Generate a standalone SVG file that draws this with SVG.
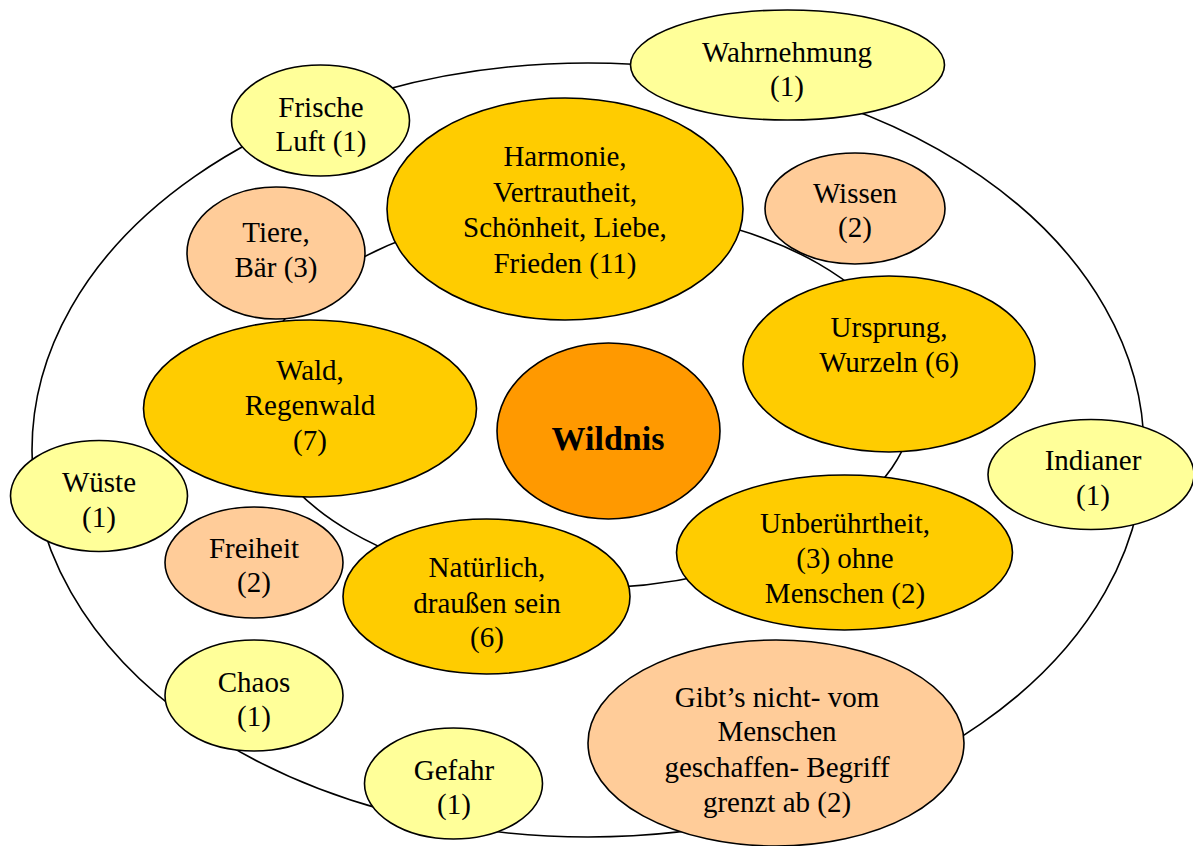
<svg xmlns="http://www.w3.org/2000/svg" width="1193" height="846" viewBox="0 0 1193 846">
  <style>
    .ring { fill: none; stroke: #000; stroke-width: 1.6; }
    .node { stroke: #000; stroke-width: 1.6; }
    .y { fill: #FFFF99; }
    .p { fill: #FFCC99; }
    .g { fill: #FFCC00; }
    .o { fill: #FF9900; }
  </style>
  <rect width="1193" height="846" fill="#fff"/>

  <!-- connecting rings -->
  <g id="connectors">
    <ellipse class="ring" cx="588" cy="450" rx="556" ry="387"/>
    <ellipse class="ring" cx="585" cy="398" rx="330" ry="190"/>
  </g>

  <g font-family="Liberation Serif" font-size="29" text-anchor="middle" fill="#000">
  <g id="frische-luft">
    <ellipse class="node y" cx="320.5" cy="120.5" rx="89" ry="55.5"/>
    <text x="321" y="117">Frische</text>
    <text x="321" y="151">Luft (1)</text>
  </g>

  <g id="wahrnehmung">
    <ellipse class="node y" cx="787.5" cy="65" rx="157" ry="55"/>
    <text x="787" y="62">Wahrnehmung</text>
    <text x="787" y="96">(1)</text>
  </g>

  <g id="harmonie">
    <ellipse class="node g" cx="565" cy="209" rx="178" ry="111"/>
    <text x="565" y="166">Harmonie,</text>
    <text x="565" y="202">Vertrautheit,</text>
    <text x="565" y="237">Schönheit, Liebe,</text>
    <text x="565" y="273">Frieden (11)</text>
  </g>

  <g id="wissen">
    <ellipse class="node p" cx="855" cy="208.5" rx="90" ry="55.5"/>
    <text x="855" y="203">Wissen</text>
    <text x="855" y="237">(2)</text>
  </g>

  <g id="tiere">
    <ellipse class="node p" cx="276" cy="253" rx="89" ry="66"/>
    <text x="276" y="242">Tiere,</text>
    <text x="276" y="277">Bär (3)</text>
  </g>

  <g id="wald">
    <ellipse class="node g" cx="310" cy="408.5" rx="166.5" ry="88.5"/>
    <text x="310" y="380">Wald,</text>
    <text x="310" y="415">Regenwald</text>
    <text x="310" y="450">(7)</text>
  </g>

  <g id="wildnis">
    <ellipse class="node o" cx="608.5" cy="431" rx="111.5" ry="88"/>
    <text x="608" y="450" font-size="34" font-weight="bold">Wildnis</text>
  </g>

  <g id="ursprung">
    <ellipse class="node g" cx="889" cy="364" rx="146" ry="88"/>
    <text x="889" y="337">Ursprung,</text>
    <text x="889" y="372">Wurzeln (6)</text>
  </g>

  <g id="indianer">
    <ellipse class="node y" cx="1091" cy="474.5" rx="103" ry="55"/>
    <text x="1093" y="470">Indianer</text>
    <text x="1093" y="505">(1)</text>
  </g>

  <g id="wueste">
    <ellipse class="node y" cx="99" cy="496" rx="88.5" ry="55.5"/>
    <text x="99" y="492">Wüste</text>
    <text x="99" y="527">(1)</text>
  </g>

  <g id="freiheit">
    <ellipse class="node p" cx="254" cy="562.5" rx="89" ry="55.5"/>
    <text x="254" y="558">Freiheit</text>
    <text x="254" y="592">(2)</text>
  </g>

  <g id="natuerlich">
    <ellipse class="node g" cx="486.5" cy="596.5" rx="143.5" ry="77.5"/>
    <text x="487" y="577">Natürlich,</text>
    <text x="487" y="613">draußen sein</text>
    <text x="487" y="647">(6)</text>
  </g>

  <g id="unberuehrtheit">
    <ellipse class="node g" cx="844.5" cy="552.5" rx="168" ry="77.5"/>
    <text x="845" y="533">Unberührtheit,</text>
    <text x="845" y="568">(3) ohne</text>
    <text x="845" y="603">Menschen (2)</text>
  </g>

  <g id="chaos">
    <ellipse class="node y" cx="254" cy="695.5" rx="89" ry="55.5"/>
    <text x="254" y="692">Chaos</text>
    <text x="254" y="726">(1)</text>
  </g>

  <g id="gefahr">
    <ellipse class="node y" cx="453.5" cy="783.5" rx="89" ry="55.5"/>
    <text x="454" y="780">Gefahr</text>
    <text x="454" y="814">(1)</text>
  </g>

  <g id="gibts-nicht">
    <ellipse class="node p" cx="776" cy="743" rx="188" ry="103"/>
    <text x="777" y="707">Gibt’s nicht- vom</text>
    <text x="777" y="741">Menschen</text>
    <text x="777" y="777">geschaffen- Begriff</text>
    <text x="777" y="812">grenzt ab (2)</text>
  </g>
  </g>
</svg>
